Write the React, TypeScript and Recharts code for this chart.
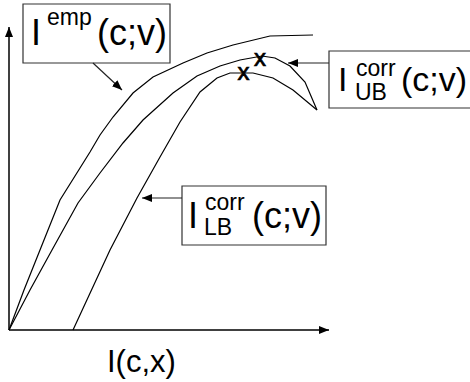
import { ComposedChart, Line, Scatter, XAxis, YAxis, ReferenceLine, ReferenceArea, Label } from 'recharts';

// curves (x = I(c,x), y = I(c;v), arbitrary units)
const empX = [0, 15, 31, 51, 81, 91, 104, 124, 144, 174, 198, 224, 261, 304];
const empY = [0, 40, 80, 130, 178, 195, 213, 237, 253, 267, 277, 285, 294, 295];
const ubX = [0, 21, 43, 69, 91, 114, 134, 164, 188, 211, 231, 253, 266, 281, 296, 308];
const ubY = [0, 40, 80, 127, 157, 187, 210, 237, 254, 264, 270, 274, 272, 264, 248, 220];
const lbX = [64, 101, 128, 151, 171, 191, 208, 221, 244, 264, 284, 308];
const lbY = [0, 80, 132, 173, 208, 238, 252, 257, 257, 252, 240, 220];

// maxima marked with an "x"
const ubMax = [{ x: 251, y: 273 }];
const lbMax = [{ x: 234.5, y: 258.5 }];

const xTitle = 'I(c,x)';

const toPoints = (xs: number[], ys: number[]) => xs.map((x, i) => ({ x, y: ys[i] }));
const empData = toPoints(empX, empY);
const ubData = toPoints(ubX, ubY);
const lbData = toPoints(lbX, lbY);

const FONT = '"Liberation Sans", Arial, sans-serif';
const INK = '#000';
const EDGE = '#333';

const xMark = (props: any) => (
  <text
    x={props.cx}
    y={props.cy}
    textAnchor="middle"
    dominantBaseline="central"
    fontFamily={FONT}
    fontSize={24}
    fill={INK}
    stroke={INK}
    strokeWidth={0.7}
  >
    x
  </text>
);

type BoxCfg = {
  sup?: string;
  sub?: string;
  size: number;
  i: number;
  base: number;
  s: number;
  supBase: number;
  subBase: number;
  paren: number;
};

const boxLabel = (cfg: BoxCfg) => (props: any) => {
  const { x, y } = props.viewBox;
  return (
    <g fontFamily={FONT} fill={INK}>
      <text x={x + cfg.i} y={y + cfg.base} fontSize={cfg.size}>I</text>
      {cfg.sup && <text x={x + cfg.s} y={y + cfg.supBase} fontSize={23}>{cfg.sup}</text>}
      {cfg.sub && <text x={x + cfg.s - 1} y={y + cfg.subBase} fontSize={23}>{cfg.sub}</text>}
      <text x={x + cfg.paren} y={y + cfg.base} fontSize={cfg.size}>(c;v)</text>
    </g>
  );
};

const axisTitle = (props: any) => {
  const { x, y } = props.viewBox;
  return (
    <text x={x + 98} y={y + 42} fontFamily={FONT} fontSize={31} fill={INK}>
      {xTitle}
    </text>
  );
};

export default function App() {
  return (
    <div style={{ position: 'absolute', left: 0, top: 0 }}>
      <ComposedChart width={470} height={382} margin={{ top: 30, right: 141, bottom: 0, left: 9 }}>
        <defs>
          <marker
            id="head"
            viewBox="0 0 10 8"
            refX={10}
            refY={4}
            markerWidth={10}
            markerHeight={8}
            markerUnits="userSpaceOnUse"
            orient="auto"
          >
            <path d="M0,0 L10,4 L0,8 z" fill="#000" />
          </marker>
        </defs>
        <XAxis
          dataKey="x"
          type="number"
          domain={[0, 320]}
          axisLine={false}
          tickLine={false}
          tick={false}
          height={52}
        >
          <Label content={axisTitle} />
        </XAxis>
        <YAxis dataKey="y" type="number" domain={[0, 300]} hide />

        {/* axes with arrow heads */}
        <ReferenceLine segment={[{ x: 0, y: 0 }, { x: 320, y: 0 }]} stroke="#000" strokeWidth={1.5} markerEnd="url(#head)" ifOverflow="visible" />
        <ReferenceLine segment={[{ x: 0, y: 0 }, { x: 0, y: 303 }]} stroke="#000" strokeWidth={1.5} markerEnd="url(#head)" ifOverflow="visible" />

        <Line data={empData} dataKey="y" type="linear" stroke={INK} strokeWidth={1.2} dot={false} isAnimationActive={false} />
        <Line data={ubData} dataKey="y" type="linear" stroke={INK} strokeWidth={1.2} dot={false} isAnimationActive={false} />
        <Line data={lbData} dataKey="y" type="linear" stroke={INK} strokeWidth={1.2} dot={false} isAnimationActive={false} />
        <Scatter data={ubMax} shape={xMark} isAnimationActive={false} />
        <Scatter data={lbMax} shape={xMark} isAnimationActive={false} />

        {/* callout arrows */}
        <ReferenceLine segment={[{ x: 84, y: 267 }, { x: 113, y: 240 }]} stroke="#222" strokeWidth={1.2} markerEnd="url(#head)" ifOverflow="visible" />
        <ReferenceLine segment={[{ x: 320, y: 267 }, { x: 279, y: 267 }]} stroke="#222" strokeWidth={1.2} markerEnd="url(#head)" ifOverflow="visible" />
        <ReferenceLine segment={[{ x: 173, y: 132 }, { x: 133, y: 132 }]} stroke="#222" strokeWidth={1.2} markerEnd="url(#head)" ifOverflow="visible" />

        {/* callout boxes */}
        <ReferenceArea x1={14} x2={161} y1={267} y2={326} fill="#fff" fillOpacity={1} stroke={EDGE} strokeWidth={1.2} ifOverflow="visible">
          <Label content={boxLabel({ sup: 'emp', size: 36, i: 8, base: 41, s: 24, supBase: 21, subBase: 0, paren: 74 })} />
        </ReferenceArea>
        <ReferenceArea x1={320} x2={470} y1={222} y2={279} fill="#fff" fillOpacity={1} stroke={EDGE} strokeWidth={1.2} ifOverflow="visible">
          <Label content={boxLabel({ sup: 'corr', sub: 'UB', size: 34, i: 9, base: 40, s: 27, supBase: 25, subBase: 49, paren: 72 })} />
        </ReferenceArea>
        <ReferenceArea x1={173} x2={317} y1={85} y2={144} fill="#fff" fillOpacity={1} stroke={EDGE} strokeWidth={1.2} ifOverflow="visible">
          <Label content={boxLabel({ sup: 'corr', sub: 'LB', size: 36, i: 6, base: 42, s: 23, supBase: 24, subBase: 49, paren: 70 })} />
        </ReferenceArea>
      </ComposedChart>
    </div>
  );
}
